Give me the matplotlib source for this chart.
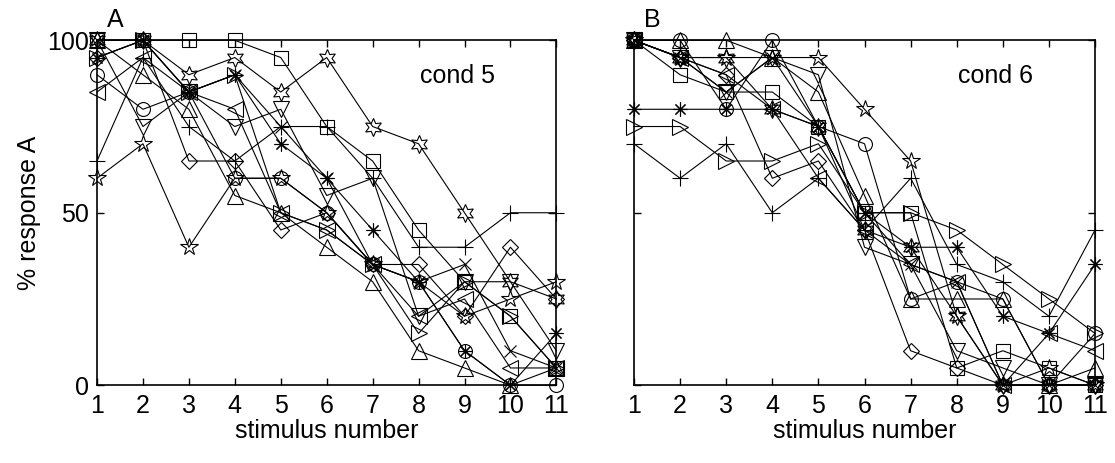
import numpy as np
import matplotlib
matplotlib.use('Agg')
import matplotlib.pyplot as plt

plt.rcParams['font.family'] = ['Liberation Sans', 'DejaVu Sans']

# numero de estimulo
estimulos = np.arange(1, 12)

# marcadores estilo matlab: + o * x s d ^ v > < pentagrama hexagrama
marcadores = ['+', 'o', (8, 2, 0), 'x', 's', 'D', '^', 'v', '>', '<', '*', (6, 1, 0)]
tamanos = [11, 10, 10, 9, 9.5, 8.5, 12, 12, 12, 12, 13, 13]

# % respuesta A, condicion 5 (un sujeto por marcador)
cond5 = [
    [65, 95, 75, 65, 75, 75, 60, 40, 40, 50, 50],
    [90, 80, 85, 60, 60, 50, 35, 30, 10, 0, 0],
    [95, 100, 85, 90, 70, 60, 45, 30, 10, 0, 15],
    [100, 100, 85, 90, 75, 60, 35, 30, 35, 10, 5],
    [100, 100, 100, 100, 95, 75, 65, 45, 30, 20, 5],
    [95, 100, 65, 65, 45, 50, 35, 35, 20, 40, 25],
    [100, 90, 80, 55, 50, 40, 30, 10, 5, 0, 5],
    [100, 75, 85, 75, 80, 55, 60, 20, 30, 30, 10],
    [95, 100, 85, 90, 50, 45, 35, 15, 30, 20, 5],
    [85, 95, 85, 80, 50, 45, 35, 20, 25, 5, 5],
    [60, 70, 40, 60, 60, 50, 35, 30, 20, 25, 30],
    [100, 100, 90, 95, 85, 95, 75, 70, 50, 30, 25],
]

# % respuesta A, condicion 6
cond6 = [
    [70, 60, 70, 50, 60, 45, 60, 35, 30, 20, 45],
    [100, 100, 80, 100, 75, 70, 25, 30, 25, 0, 15],
    [80, 80, 80, 80, 75, 50, 40, 40, 20, 15, 35],
    [100, 95, 85, 95, 75, 50, 35, 30, 0, 0, 0],
    [100, 90, 85, 85, 75, 50, 50, 5, 10, 5, 0],
    [100, 95, 90, 60, 65, 45, 10, 5, 0, 0, 0],
    [100, 100, 100, 95, 85, 55, 25, 25, 25, 0, 5],
    [100, 95, 85, 95, 90, 40, 35, 10, 5, 0, 0],
    [75, 75, 65, 65, 70, 50, 50, 45, 35, 25, 15],
    [100, 95, 90, 80, 60, 45, 35, 30, 0, 15, 10],
    [100, 95, 95, 95, 95, 80, 65, 20, 0, 5, 0],
    [100, 95, 95, 80, 75, 45, 40, 20, 0, 0, 0],
]

fig = plt.figure(figsize=(11.15, 4.63), dpi=100)
ax1 = fig.add_axes([0.087, 0.168, 0.412, 0.745])
ax2 = fig.add_axes([0.5686, 0.168, 0.4135, 0.745])

def dibujar_panel(ax, datos, letra, texto, etiquetas_y):
    for serie, m, ms in zip(datos, marcadores, tamanos):
        ax.plot(estimulos, serie, color='black', lw=0.8, marker=m, ms=ms,
                mfc='none', mec='black', mew=0.8, clip_on=False)
    ax.set_xlim(1, 11)
    ax.set_ylim(0, 100)
    ax.set_xticks(estimulos)
    ax.set_yticks([0, 50, 100])
    if not etiquetas_y:
        ax.set_yticklabels([])
    ax.tick_params(direction='in', top=True, right=True, length=5, width=1,
                   labelsize=18, pad=6)
    for s in ax.spines.values():
        s.set_linewidth(1.2)
    ax.set_xlabel('stimulus number', fontsize=18, labelpad=1)
    ax.text(0.022, 1.025, letra, transform=ax.transAxes, fontsize=18,
            ha='left', va='bottom')
    ax.text(0.785, 0.895, texto, transform=ax.transAxes, fontsize=18,
            ha='center', va='center')

dibujar_panel(ax1, cond5, 'A', 'cond 5', True)
dibujar_panel(ax2, cond6, 'B', 'cond 6', False)
ax1.set_ylabel('% response A', fontsize=18, labelpad=4)

fig.savefig('out.png', dpi=100)
